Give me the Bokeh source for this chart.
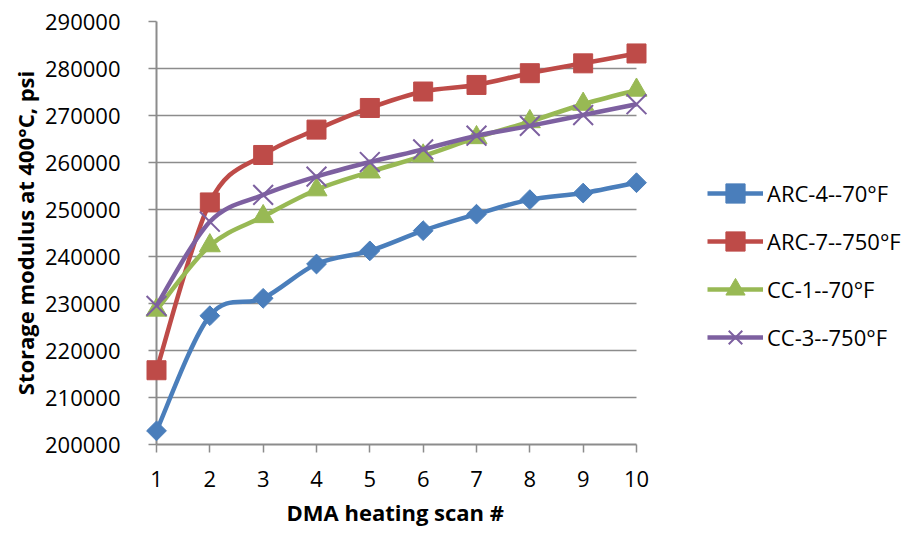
from bokeh.plotting import figure
from bokeh.models import (Legend, LegendItem, FixedTicker, SingleIntervalTicker,
                          BasicTickFormatter, Range1d, Title)
from bokeh.embed import file_html
from bokeh.resources import INLINE

scans = [1, 2, 3, 4, 5, 6, 7, 8, 9, 10]
arc4_70 = [202900, 227400, 231100, 238400, 241200, 245500, 249000, 252100, 253500, 255700]
arc7_750 = [215800, 251500, 261600, 267000, 271600, 275100, 276500, 279000, 281100, 283200]
cc1_70 = [228600, 242300, 248500, 254200, 258000, 261400, 265300, 268700, 272400, 275400]
cc3_750 = [229500, 247400, 253100, 257000, 260100, 262800, 265700, 267800, 270100, 272400]
names = ["ARC-4--70°F", "ARC-7--750°F", "CC-1--70°F", "CC-3--750°F"]
x_ticks = [1, 2, 3, 4, 5, 6, 7, 8, 9, 10]
x_title = "DMA heating scan #"
y_title = "Storage modulus at 400°C, psi"

FONT = "Open Sans"
GRID = "#8c8c8c"

# layout: data area spans 480 px for x 1..10; the frame extends right to hold the legend
PLOT_W = 480
EXTRA_W = 275
x_end = 10 + (10 - 1) * EXTRA_W / PLOT_W

p = figure(frame_width=PLOT_W + EXTRA_W, frame_height=423,
           output_backend="svg", toolbar_location=None,
           x_range=Range1d(1, x_end), y_range=Range1d(200000, 290000),
           min_border_left=156, min_border_right=0, min_border_top=21, min_border_bottom=90)
p.outline_line_color = None
p.background_fill_color = "white"
p.border_fill_color = "white"

p.xgrid.visible = False
p.ygrid.grid_line_color = GRID
p.ygrid.grid_line_width = 1.5
p.ygrid.cross_bounds = (1, 10)
p.yaxis.ticker = SingleIntervalTicker(interval=10000, num_minor_ticks=0)
p.yaxis.formatter = BasicTickFormatter(use_scientific=False)
p.xaxis.ticker = FixedTicker(ticks=x_ticks)
p.xaxis.bounds = (1, 10)

for ax in (p.xaxis[0], p.yaxis[0]):
    ax.axis_line_color = GRID
    ax.axis_line_width = 2
    ax.major_tick_line_color = GRID
    ax.major_tick_line_width = 1.5
    ax.major_tick_in = 0
    ax.major_tick_out = 8
    ax.minor_tick_line_color = None
    ax.major_label_text_font = FONT
    ax.major_label_text_font_size = "22px"
    ax.major_label_text_color = "black"
    ax.axis_label_text_font = FONT
    ax.axis_label_text_font_size = "22px"
    ax.axis_label_text_font_style = "bold"
    ax.axis_label_text_color = "black"

p.xaxis.major_label_standoff = 18
p.yaxis.major_label_standoff = 28
p.yaxis.axis_label = y_title
p.yaxis.axis_label_standoff = 2

# x-axis title centred under the data area (x = 1..10), not under the whole frame
p.add_layout(Title(text=x_title, align="left", offset=130, standoff=11,
                   text_font=FONT, text_font_size="22px", text_font_style="bold",
                   text_color="black"), "below")


def smooth(xs, ys):
    n = len(xs)
    x0, y0, x1, y1, cx0, cy0, cx1, cy1 = [], [], [], [], [], [], [], []
    for i in range(n - 1):
        ip = max(i - 1, 0)
        inn = min(i + 2, n - 1)
        x0.append(xs[i]); y0.append(ys[i])
        x1.append(xs[i + 1]); y1.append(ys[i + 1])
        cx0.append(xs[i] + (xs[i + 1] - xs[ip]) / 6.0)
        cy0.append(ys[i] + (ys[i + 1] - ys[ip]) / 6.0)
        cx1.append(xs[i + 1] - (xs[inn] - xs[i]) / 6.0)
        cy1.append(ys[i + 1] - (ys[inn] - ys[i]) / 6.0)
    return dict(x0=x0, y0=y0, x1=x1, y1=y1, cx0=cx0, cy0=cy0, cx1=cx1, cy1=cy1)


series = [
    (arc4_70, "#4a7ebb", dict(marker="square", size=14, angle=0.785398)),
    (arc7_750, "#be4b48", dict(marker="square", size=19)),
    (cc1_70, "#98b954", dict(marker="triangle", size=21)),
    (cc3_750, "#7d60a0", dict(marker="x", size=28, line_width=2)),
]

items = []
for (vals, color, mk), name in zip(series, names):
    b = p.bezier(line_color=color, line_width=4.5, level="annotation", **smooth(scans, vals))
    if mk["marker"] == "x":
        s = p.scatter(scans, vals, marker="x", size=mk["size"], line_color=color,
                      line_width=mk["line_width"], level="annotation")
    else:
        s = p.scatter(scans, vals, marker=mk["marker"], size=mk["size"], angle=mk.get("angle", 0),
                      fill_color=color, line_color=color, level="annotation")
    items.append(LegendItem(label=name, renderers=[b, s]))

legend = Legend(items=items, location=(551, 83), padding=0, margin=0, spacing=0,
                glyph_width=56, glyph_height=48, label_standoff=4,
                label_text_font=FONT, label_text_font_size="22px", label_text_color="black",
                border_line_color=None, background_fill_alpha=0)
p.add_layout(legend)

open("out.html", "w").write(file_html(p, INLINE))
